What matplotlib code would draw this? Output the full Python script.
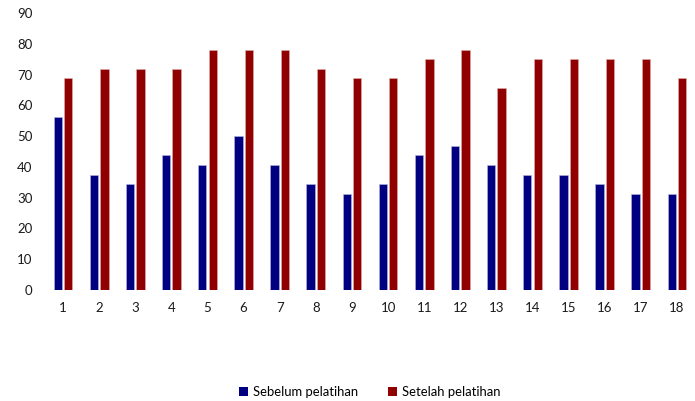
import matplotlib
matplotlib.use("Agg")
import matplotlib.pyplot as plt
import numpy as np
from matplotlib.patches import Patch

categories = [str(i) for i in range(1, 19)]
sebelum = [56.25, 37.5, 34.375, 43.75, 40.625, 50, 40.625, 34.375, 31.25,
           34.375, 43.75, 46.875, 40.625, 37.5, 37.5, 34.375, 31.25, 31.25]
setelah = [68.75, 71.875, 71.875, 71.875, 78.125, 78.125, 78.125, 71.875, 68.75,
           68.75, 75, 78.125, 65.625, 75, 75, 75, 75, 68.75]
series_names = ["Sebelum pelatihan", "Setelah pelatihan"]
yticks = list(range(0, 100, 10))

blue = "#000080"
red = "#900000"

plt.rcParams["font.family"] = ["Lato", "DejaVu Sans"]

fig = plt.figure(figsize=(6.95, 4.01), dpi=100)
ax = fig.add_axes([45 / 695, 111 / 401, 650 / 695, 277 / 401])

x = np.arange(1, len(categories) + 1)
w = 0.23
ax.bar(x - 0.145, sebelum, width=w, color=blue, edgecolor="#b8b8e0", linewidth=0.4)
ax.bar(x + 0.145, setelah, width=w, color=red, edgecolor="#e0b0b0", linewidth=0.4)

ax.set_xlim(0.5, 18.5)
ax.set_ylim(0, 90)
ax.set_yticks(yticks)
ax.set_xticks(x)
ax.set_xticklabels(categories)
for s in ax.spines.values():
    s.set_visible(False)
ax.tick_params(axis="both", length=0, labelsize=9.5, colors="#1a1a1a")
ax.tick_params(axis="y", pad=9)
ax.tick_params(axis="x", pad=9)

handles = [Patch(facecolor=blue), Patch(facecolor=red)]
fig.legend(handles, series_names, loc="center", bbox_to_anchor=(0.532, 0.022),
           ncol=2, frameon=False, fontsize=9.4, handlelength=0.7, handleheight=0.7,
           handletextpad=0.4, columnspacing=2.3)

# title text sits mostly above the top edge of the canvas
fig.text(113 / 695, 1 + 9 / 401, "p", family="Liberation Serif", fontsize=16,
         ha="center", va="baseline", color="#111111")

fig.savefig("out.png", dpi=100, facecolor="white")
